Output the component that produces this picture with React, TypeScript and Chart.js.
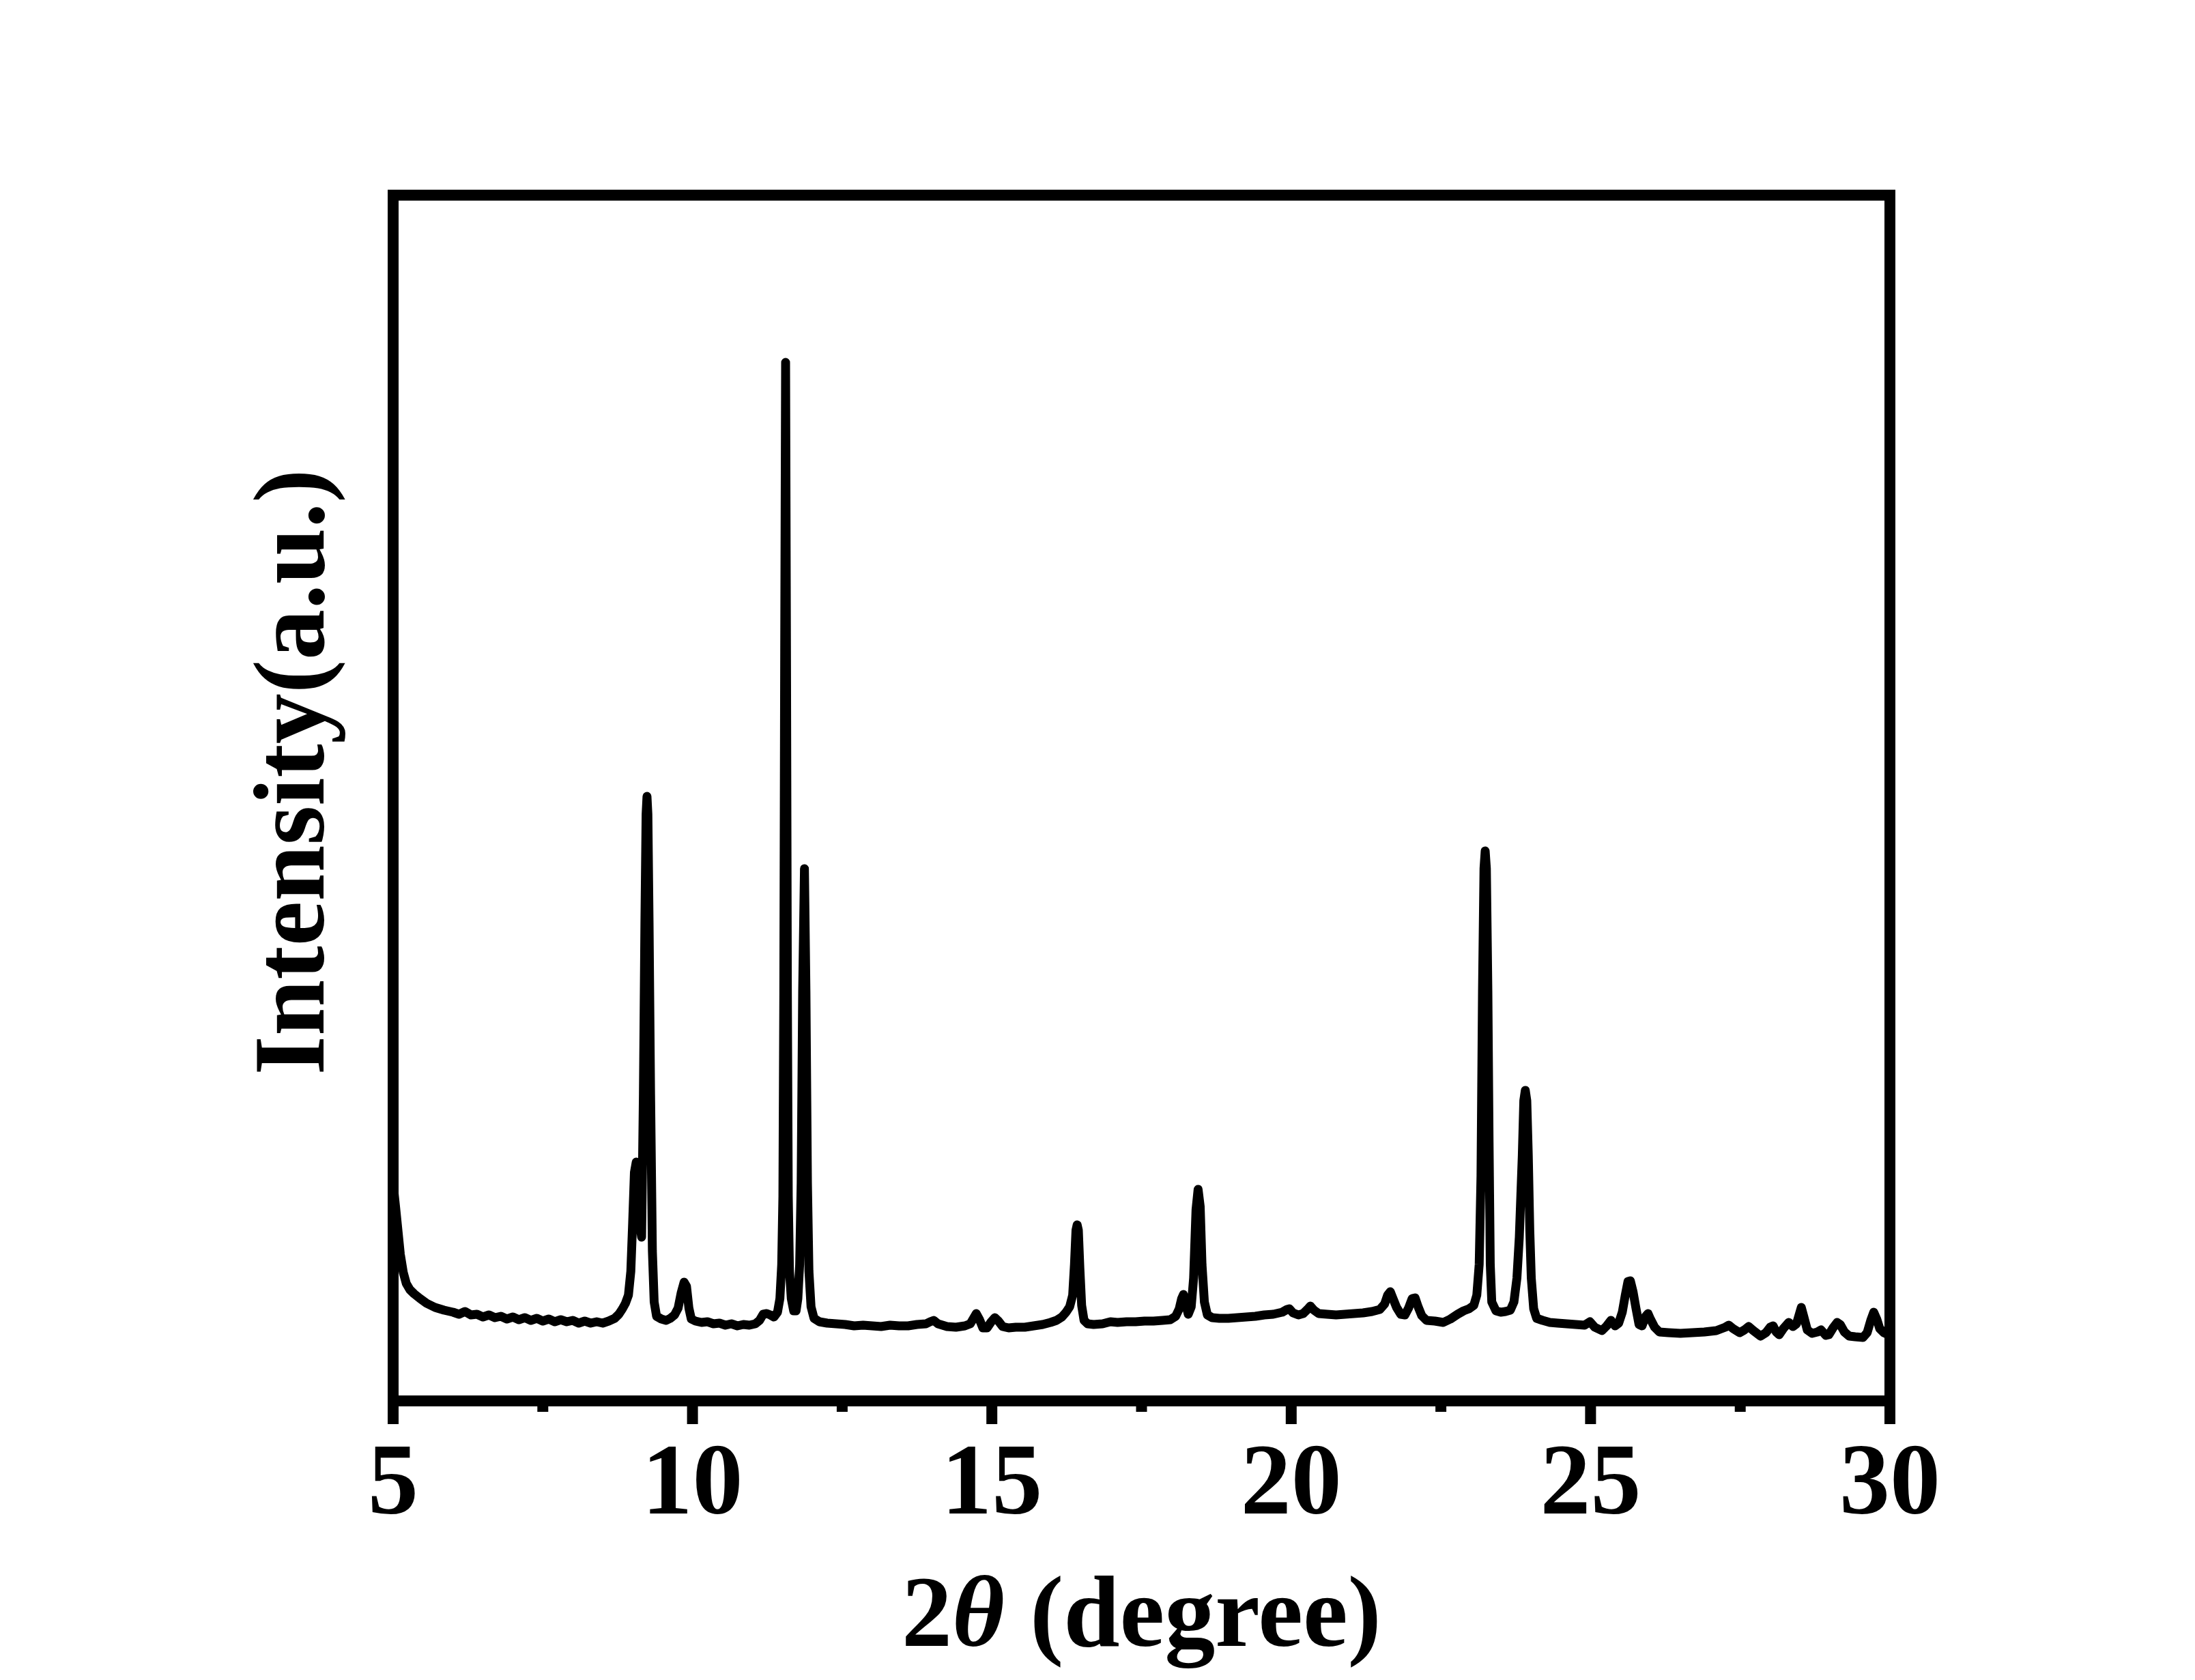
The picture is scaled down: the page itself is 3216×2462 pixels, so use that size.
import React, { useEffect, useRef } from 'react';
import { Chart, registerables } from 'chart.js';

Chart.register(...registerables);

// 2θ positions (degree)
const twoTheta: number[] = [
  5.00, 5.04, 5.08, 5.12, 5.17, 5.22, 5.28, 5.35, 5.45, 5.56, 5.70, 5.85,
  6.00, 6.10, 6.20, 6.30, 6.40, 6.50, 6.60, 6.70, 6.80, 6.90,
  7.00, 7.10, 7.20, 7.30, 7.40, 7.50, 7.60, 7.70, 7.80, 7.90,
  8.00, 8.10, 8.20, 8.30, 8.40, 8.50, 8.60, 8.70, 8.77, 8.83, 8.88, 8.93, 8.97,
  9.00, 9.03, 9.06, 9.09, 9.12, 9.15, 9.18, 9.205, 9.225, 9.24, 9.255, 9.275, 9.30, 9.33, 9.36,
  9.40, 9.48, 9.56, 9.63, 9.70, 9.76, 9.81, 9.86, 9.90, 9.94, 9.98,
  10.05, 10.15, 10.25, 10.35, 10.45, 10.55, 10.65, 10.75, 10.85, 10.95,
  11.05, 11.12, 11.18, 11.24, 11.30, 11.36, 11.42, 11.46, 11.49, 11.51, 11.525, 11.54, 11.555,
  11.57, 11.585, 11.60, 11.62, 11.65, 11.69, 11.73, 11.76, 11.79, 11.815, 11.84, 11.87,
  11.895, 11.92, 11.945, 11.98,
  12.03, 12.12, 12.25, 12.40, 12.55, 12.70, 12.85,
  13.00, 13.15, 13.30, 13.45, 13.60, 13.75, 13.90, 13.97,
  14.03, 14.10, 14.25, 14.40, 14.55, 14.64, 14.70, 14.74, 14.79, 14.85, 14.92, 14.99,
  15.05, 15.11, 15.18, 15.28, 15.40, 15.55, 15.70, 15.85, 15.98,
  16.08, 16.17, 16.24, 16.30, 16.35, 16.38, 16.405, 16.425, 16.445, 16.47, 16.50, 16.54, 16.60,
  16.70, 16.85, 16.98, 17.10, 17.25, 17.40, 17.55, 17.70, 17.85, 17.98,
  18.07, 18.13, 18.17, 18.20, 18.23, 18.28, 18.33, 18.37, 18.41, 18.445, 18.48, 18.51, 18.55,
  18.60, 18.68, 18.80, 18.95, 19.10, 19.25, 19.40, 19.55, 19.70, 19.85, 19.93, 19.97,
  20.03, 20.12, 20.20, 20.27, 20.32, 20.38, 20.46, 20.60, 20.75, 20.90,
  21.05, 21.20, 21.35, 21.48, 21.56, 21.61, 21.655, 21.70, 21.76, 21.83, 21.90, 21.96,
  22.02, 22.07, 22.12, 22.18, 22.26, 22.40, 22.54, 22.66, 22.78, 22.88, 22.97,
  23.05, 23.10, 23.14, 23.17, 23.195, 23.22, 23.24, 23.26, 23.285, 23.305, 23.325, 23.35,
  23.42, 23.50, 23.58, 23.66, 23.72, 23.77, 23.81, 23.835, 23.86, 23.885, 23.91, 23.935,
  23.96, 23.985, 24.01, 24.05, 24.10, 24.20, 24.32, 24.45, 24.60, 24.75, 24.90, 24.99,
  25.07, 25.19, 25.27, 25.34, 25.41, 25.47, 25.53, 25.58, 25.625, 25.665, 25.71, 25.76,
  25.81, 25.86, 25.92, 25.96, 26.00, 26.07, 26.15, 26.30, 26.50, 26.70, 26.90,
  27.10, 27.25, 27.31, 27.38, 27.49, 27.57, 27.64, 27.72, 27.84, 27.93,
  28.00, 28.05, 28.10, 28.15, 28.22, 28.31, 28.38, 28.44, 28.49, 28.52, 28.56, 28.62,
  28.70, 28.79, 28.85, 28.93, 28.98, 29.05, 29.12, 29.17, 29.24, 29.32, 29.42, 29.55,
  29.62, 29.68, 29.73, 29.78, 29.83, 29.90, 29.95, 30.00,
];

// Intensity (a.u.)
const intensity: number[] = [
  318, 285, 250, 215, 188, 172, 163, 157, 150, 143, 137, 133,
  130, 127, 131, 126, 127, 123, 126, 122, 124, 120,
  123, 119, 122, 118, 121, 117, 120, 116, 119, 116,
  118, 114, 117, 114, 116, 114, 117, 121, 127, 135, 143, 155, 190,
  260, 335, 350, 330, 260, 240, 450, 700, 860, 886, 860, 700, 450, 220, 145,
  124, 120, 118, 121, 126, 136, 158, 174, 168, 136, 120,
  117, 115, 116, 113, 114, 111, 113, 110, 112, 111,
  113, 118, 127, 128, 126, 123, 130, 150, 200, 300, 600, 1100, 1522,
  1100, 600, 300, 190, 150, 132, 132, 150, 200, 320, 600, 780,
  600, 320, 190, 138,
  121, 116, 114, 113, 112, 110, 111,
  110, 109, 111, 110, 110, 112, 113, 116,
  118, 113, 109, 108, 110, 113, 122, 128, 120, 107, 107, 116,
  122, 117, 109, 107, 108, 108, 110, 112, 115,
  118, 123, 130, 138, 155, 200, 250, 258, 250, 195, 140, 118, 113,
  112, 113, 116, 115, 116, 116, 117, 117, 118, 119,
  124, 135, 150, 156, 145, 127, 138, 180, 280, 310, 285, 200, 145,
  126, 122, 121, 121, 122, 123, 124, 126, 127, 130, 134, 135,
  129, 126, 128, 134, 139, 133, 128, 127, 126, 127,
  128, 129, 131, 134, 142, 155, 160, 150, 137, 127, 126, 136,
  150, 151, 138, 125, 118, 117, 115, 120, 127, 132, 135,
  140, 155, 200, 330, 600, 780, 806, 780, 600, 380, 200, 145,
  132, 130, 131, 133, 145, 180, 240, 300, 360, 440, 455, 440,
  360, 250, 180, 135, 121, 118, 115, 114, 113, 112, 111, 116,
  108, 103, 110, 118, 110, 114, 130, 155, 175, 176, 160, 135,
  112, 110, 124, 128, 120, 108, 101, 100, 99, 100, 101,
  103, 108, 111, 106, 100, 104, 109, 103, 95, 100,
  108, 110, 101, 97, 106, 115, 109, 113, 128, 137, 124, 104,
  99, 101, 104, 96, 97, 107, 115, 112, 101, 95, 94, 93,
  100, 118, 130, 120, 106, 100, 98, 102,
];

const xMin = 5;
const xMax = 30;
const yMin = 0;
const yMax = 1767;
const majorTicks: number[] = [5, 10, 15, 20, 25, 30];
const minorTicks: number[] = [7.5, 12.5, 17.5, 22.5, 27.5];
const xTitleParts: string[] = ['2', 'θ', ' (degree)'];
const yTitle = 'Intensity(a.u.)';

const FONT = "'Liberation Serif', 'Times New Roman', serif";
const W = 3216;
const H = 2462;

export default function App() {
  const ref = useRef<HTMLCanvasElement>(null);

  useEffect(() => {
    const canvas = ref.current;
    if (!canvas) return;

    const framePlugin = {
      id: 'frameAndTitles',
      afterDatasetsDraw(chart: any) {
        const { ctx, chartArea: a, scales } = chart;
        const xs = scales.x;
        ctx.save();
        ctx.strokeStyle = '#000';
        ctx.fillStyle = '#000';
        ctx.lineWidth = 16;
        ctx.lineJoin = 'miter';
        ctx.strokeRect(a.left, a.top, a.right - a.left, a.bottom - a.top);
        ctx.lineCap = 'butt';
        for (const v of majorTicks) {
          const px = xs.getPixelForValue(v);
          ctx.beginPath();
          ctx.moveTo(px, a.bottom);
          ctx.lineTo(px, a.bottom + 34);
          ctx.stroke();
        }
        for (const v of minorTicks) {
          const px = xs.getPixelForValue(v);
          ctx.beginPath();
          ctx.moveTo(px, a.bottom);
          ctx.lineTo(px, a.bottom + 16);
          ctx.stroke();
        }

        // x title
        const fonts = [
          `bold 148px ${FONT}`,
          `italic bold 148px ${FONT}`,
          `bold 148px ${FONT}`,
        ];
        let total = 0;
        const widths: number[] = [];
        xTitleParts.forEach((t, i) => {
          ctx.font = fonts[i];
          const w = ctx.measureText(t).width;
          widths.push(w);
          total += w;
        });
        let x = (a.left + a.right) / 2 - total / 2;
        const yBase = a.bottom + 359;
        ctx.textBaseline = 'alphabetic';
        ctx.textAlign = 'left';
        xTitleParts.forEach((t, i) => {
          ctx.font = fonts[i];
          ctx.fillText(t, x, yBase);
          x += widths[i];
        });

        // y title
        ctx.save();
        ctx.translate(a.left - 102, (a.top + a.bottom) / 2 - 38);
        ctx.rotate(-Math.PI / 2);
        ctx.font = `bold 148px ${FONT}`;
        ctx.textAlign = 'center';
        ctx.textBaseline = 'alphabetic';
        ctx.fillText(yTitle, 0, 0);
        ctx.restore();

        ctx.restore();
      },
    };

    const chart = new Chart(canvas, {
      type: 'line',
      data: {
        datasets: [
          {
            data: twoTheta.map((x, i) => ({ x, y: intensity[i] })),
            borderColor: '#000',
            borderWidth: 13,
            pointRadius: 0,
            tension: 0,
            fill: false,
            borderJoinStyle: 'round',
            borderCapStyle: 'round',
          },
        ],
      },
      options: {
        animation: false,
        responsive: false,
        devicePixelRatio: 1,
        layout: { padding: { left: 576, right: W - 2769, top: 286, bottom: 0 } },
        plugins: { legend: { display: false }, tooltip: { enabled: false } },
        scales: {
          x: {
            type: 'linear',
            min: xMin,
            max: xMax,
            afterFit: (scale: any) => {
              scale.height = H - 2053;
            },
            border: { display: false },
            grid: {
              display: true,
              drawOnChartArea: false,
              drawTicks: true,
              tickLength: 34,
              color: 'rgba(0,0,0,0)',
            },
            ticks: {
              stepSize: 5,
              color: '#000',
              padding: 4,
              maxRotation: 0,
              font: { family: FONT, size: 148, weight: 'bold' },
              callback: (v: any) => String(v),
            },
          },
          y: {
            display: false,
            min: yMin,
            max: yMax,
          },
        },
      } as any,
      plugins: [framePlugin],
    });

    return () => chart.destroy();
  }, []);

  return (
    <div style={{ position: 'absolute', left: 0, top: 0, width: W, height: H, background: '#fff' }}>
      <canvas ref={ref} width={W} height={H} style={{ width: W, height: H, display: 'block' }} />
    </div>
  );
}
